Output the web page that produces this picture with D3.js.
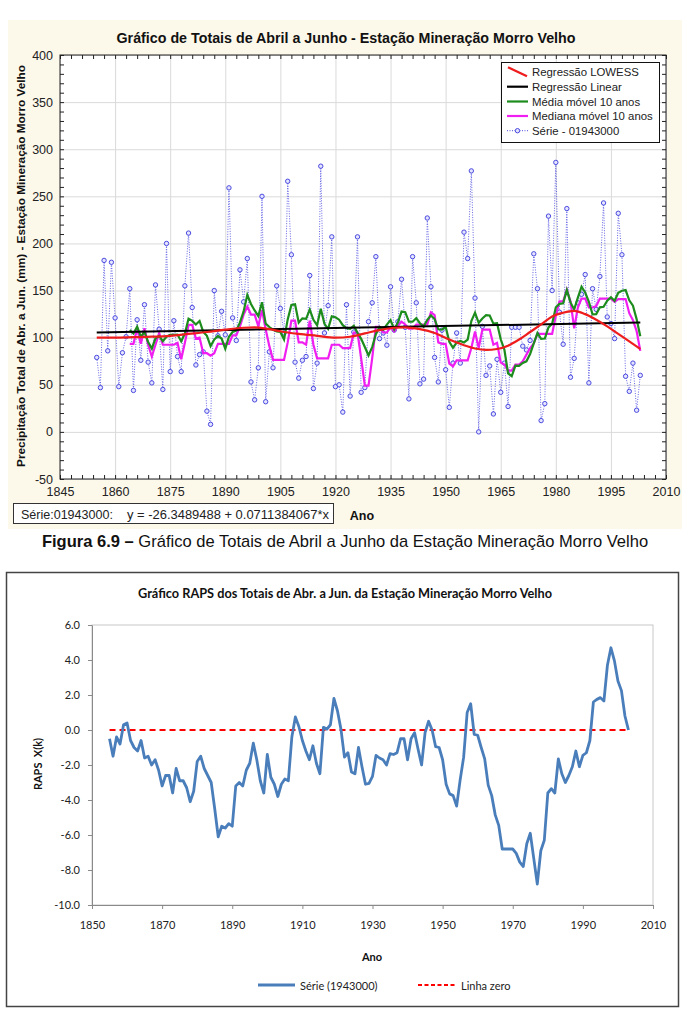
<!DOCTYPE html>
<html><head><meta charset="utf-8">
<script src="https://cdn.jsdelivr.net/npm/d3@7/dist/d3.min.js"></script>
<style>body{margin:0;background:#fff} svg{display:block}</style>
</head><body>
<svg id="c" width="686" height="1011"></svg>
<script>
// ---------------- DATA ----------------
const firstYear = 1855;
// Série - 01943000 (mm), 1855..2003
const serie = [79,47,182,86,180,121,48,84,101,152,
  44,119,76,135,74,52,156,109,45,200,
  64,118,80,64,155,211,132,71,82,85,
  22,8,150,102,128,103,259,121,97,172,
  138,184,53,34,68,250,32,85,68,155,
  131,105,266,188,74,57,76,80,166,46,
  73,282,105,134,207,48,50,21,135,38,
  106,207,42,47,117,137,186,99,105,92,
  154,108,117,162,111,35,186,137,51,56,
  227,154,79,53,108,66,26,73,105,73,
  212,184,277,142,0,112,60,70,19,77,
  42,73,27,111,111,111,91,87,97,189,
  152,12,30,229,150,286,127,93,237,58,
  78,137,146,167,52,152,130,165,243,122,
  115,99,232,188,59,43,73,23,60];
// Média móvel 10 anos, 1864..2003
const mediaFirstYear = 1864;
const mediaMovel = [108.0,104.5,111.7,101.1,106.0,95.4,88.5,99.3,101.8,96.2,
  101.0,103.0,102.9,103.3,96.2,104.3,120.2,117.8,114.0,117.7,
  106.2,102.0,91.0,98.0,101.8,99.1,88.3,101.0,106.0,107.5,
  116.2,127.8,145.4,135.7,128.9,122.9,137.6,114.9,111.3,108.4,
  106.7,106.0,98.1,119.4,134.8,135.4,116.1,120.5,120.0,129.8,
  118.9,113.1,130.8,114.7,109.3,122.6,121.7,119.1,113.2,110.1,
  109.3,112.6,105.1,98.8,90.1,81.1,90.0,103.6,111.4,108.4,
  113.8,118.6,108.7,116.2,127.7,127.1,116.9,116.9,120.7,115.3,
  111.7,119.0,123.6,119.8,108.9,108.6,111.7,95.7,89.3,94.7,
  96.4,94.9,97.9,117.7,126.6,115.8,120.4,123.8,123.5,114.9,
  115.3,98.3,87.2,62.2,59.1,70.2,70.1,73.2,74.9,82.7,
  93.9,104.9,98.8,99.1,110.9,114.8,132.3,135.9,136.5,150.5,
  137.4,130.0,142.5,154.1,147.9,138.1,124.7,125.0,132.2,132.8,
  139.2,142.9,139.1,147.7,149.8,150.5,139.6,133.9,119.7,101.4];
// Mediana móvel 10 anos, 1864..2003
const medianaMovel = [93.5,93.5,110,93.5,110,92.5,80,92.5,105,92.5,
  92.5,92.5,92.5,94.5,77,94.5,113.5,113.5,99,100,
  83.5,83.5,81,83.5,93.5,93.5,93.5,93.5,102.5,102.5,
  112,124.5,133,124.5,124.5,112,129.5,109,91,76.5,
  76.5,76.5,76.5,95,118,118,95,95,92.5,118,
  92.5,78,78,78,78,92.5,92.5,92.5,89,89,
  89,105.5,105.5,78,49,49,78,111.5,111.5,105.5,
  105.5,111,106.5,112.5,117,114,109.5,109.5,114,114,
  114,114,127,124,95,93.5,93.5,72.5,69.5,76,
  76,76,76,89,106.5,89,108.5,108.5,108.5,92.5,
  94.5,73.5,71.5,65,65,71.5,71.5,75,82,89,
  94,104,104,104,104,104,123.5,138.5,138.5,151,
  138.5,110,132,141.5,141.5,132,132,133.5,141.5,141.5,
  141.5,141.5,138,141,141,141,126,118.5,107,86];
// Regressão LOWESS
const lowessYears = [1855,1860,1865,1870,1875,1880,1885,1890,1895,1898,1902,1906,1910,1915,1920,1924,1928,1932,1936,1939,1943,1947,1951,1955,1958,1961,1964,1967,1970,1973,1976,1979,1982,1985,1988,1991,1994,1997,2000,2003];
const lowessVals  = [100,100,100.5,101,102,104,106,108.5,110.5,111,109,106,104,102,100,101,104.5,108,110.5,111,109,105,98,92,88.5,87,88,91.5,98,106,114,122.5,126.5,128.5,125,119,112,104,96,88];
// Regressão Linear
const linYears = [1855, 2003];
const linVals  = [105.6, 116.1];
// RAPS X(k), 1855..2003
const raps = [-0.5,-1.5,-0.4,-0.8,0.3,0.4,-0.6,-1.0,-1.2,-0.6,
  -1.6,-1.5,-2.0,-1.7,-2.3,-3.2,-2.6,-2.6,-3.6,-2.2,
  -2.9,-2.9,-3.3,-4.1,-3.5,-1.8,-1.5,-2.2,-2.6,-3.0,
  -4.5,-6.1,-5.5,-5.6,-5.35,-5.5,-3.2,-3.0,-3.2,-2.3,
  -1.9,-0.75,-1.7,-2.9,-3.6,-1.4,-2.7,-3.1,-3.8,-3.1,
  -2.8,-2.9,-0.4,0.75,0.2,-0.6,-1.2,-1.7,-0.9,-1.9,
  -2.5,0.15,0.05,0.3,1.8,1.1,0.05,-1.55,-1.3,-2.4,
  -2.5,-1.0,-2.1,-3.1,-3.05,-2.65,-1.45,-1.6,-1.7,-2.0,
  -1.35,-1.4,-1.3,-0.5,-0.5,-1.7,-0.5,-0.15,-1.1,-2.0,
  -0.15,0.5,0.0,-0.95,-1.0,-1.7,-3.1,-3.65,-3.75,-4.35,
  -2.85,-1.55,1.0,1.5,-0.25,-0.3,-1.0,-1.65,-3.15,-3.75,
  -4.85,-5.45,-6.8,-6.8,-6.8,-6.8,-7.05,-7.55,-7.8,-6.5,
  -5.9,-7.35,-8.8,-6.9,-6.3,-3.6,-3.35,-3.6,-1.65,-2.5,
  -3.0,-2.6,-2.1,-1.2,-2.1,-1.45,-1.3,-0.6,1.6,1.75,
  1.85,1.65,3.7,4.7,3.95,2.8,2.25,0.8,0.0];
const zeroYears = [1855, 2003];
const zeroVals = [0, 0];
// tick labels
const topXTicks = [1845,1860,1875,1890,1905,1920,1935,1950,1965,1980,1995,2010];
const topYTicks = [-50,0,50,100,150,200,250,300,350,400];
const botXTicks = [1850,1870,1890,1910,1930,1950,1970,1990,2010];
const botYTicks = [-10,-8,-6,-4,-2,0,2,4,6];

// ---------------- HELPERS ----------------
const svg = d3.select('#c');
function fit(sel, w){
  const n = sel.node(); const cur = n.getComputedTextLength();
  const fs = parseFloat(sel.attr('font-size'));
  sel.attr('font-size', (fs*w/cur).toFixed(2));
  return sel;
}
const pts = (vals, y0) => vals.map((v,i)=>({x:y0+i, y:v}));
const pairs = (xs, ys) => xs.map((x,i)=>({x:x, y:ys[i]}));

// ================= TOP CHART =================
const FT = 'Liberation Sans, Arial, sans-serif';
svg.append('rect').attr('x',8).attr('y',20).attr('width',674).attr('height',509).attr('fill','#fcf8ea');
const T = {l:60, r:666, t:55, b:479};
const xT = d3.scaleLinear().domain([1845,2010]).range([T.l,T.r]);
const yT = d3.scaleLinear().domain([-50,400]).range([T.b,T.t]);
svg.append('rect').attr('x',T.l).attr('y',T.t).attr('width',T.r-T.l).attr('height',T.b-T.t).attr('fill','#fff');

const gridStyle = g => { g.select('.domain').remove(); g.selectAll('line').attr('stroke','#dadada').attr('stroke-width',1); };
svg.append('g').attr('transform',`translate(0,${T.b})`)
  .call(d3.axisBottom(xT).tickValues(topXTicks).tickSize(-(T.b-T.t)).tickFormat('')).call(gridStyle);
svg.append('g').attr('transform',`translate(${T.l},0)`)
  .call(d3.axisLeft(yT).tickValues(topYTicks).tickSize(-(T.r-T.l)).tickFormat('')).call(gridStyle);

const minorX = d3.range(1845, 2011, 3), minorY = d3.range(-50, 401, 10);
const tickStyle = g => { g.select('.domain').remove(); g.selectAll('line').attr('stroke','#222'); };
svg.append('g').attr('transform',`translate(0,${T.b})`).call(d3.axisBottom(xT).tickValues(minorX).tickSize(-4).tickFormat('')).call(tickStyle);
svg.append('g').attr('transform',`translate(0,${T.t})`).call(d3.axisTop(xT).tickValues(minorX).tickSize(-4).tickFormat('')).call(tickStyle);
svg.append('g').attr('transform',`translate(${T.l},0)`).call(d3.axisLeft(yT).tickValues(minorY).tickSize(-4).tickFormat('')).call(tickStyle);
svg.append('g').attr('transform',`translate(${T.r},0)`).call(d3.axisRight(yT).tickValues(minorY).tickSize(-4).tickFormat('')).call(tickStyle);

const labStyle = g => { g.select('.domain').remove(); g.selectAll('line').remove();
  g.selectAll('text').attr('font-family',FT).attr('font-size',12.5).attr('fill','#222'); };
svg.append('g').attr('transform',`translate(0,${T.b})`).call(d3.axisBottom(xT).tickValues(topXTicks).tickSize(0).tickPadding(8).tickFormat(d=>String(d))).call(labStyle);
svg.append('g').attr('transform',`translate(${T.l},0)`).call(d3.axisLeft(yT).tickValues(topYTicks).tickSize(0).tickPadding(7).tickFormat(d=>String(d))).call(labStyle);

svg.append('defs').append('clipPath').attr('id','clipT').append('rect')
  .attr('x',T.l).attr('y',T.t).attr('width',T.r-T.l).attr('height',T.b-T.t);
const plotT = svg.append('g').attr('clip-path','url(#clipT)');
const lineT = d3.line().x(d=>xT(d.x)).y(d=>yT(d.y));
const serieColor = '#4a4ae0';
plotT.append('path').datum(pts(serie, firstYear)).attr('d',lineT).attr('fill','none')
  .attr('stroke',serieColor).attr('stroke-width',1).attr('stroke-dasharray','1,1.5').attr('opacity',0.85);
plotT.selectAll('circle.s').data(pts(serie, firstYear)).join('circle').attr('class','s')
  .attr('cx',d=>xT(d.x)).attr('cy',d=>yT(d.y)).attr('r',2.2)
  .attr('fill','#e4e4ff').attr('stroke',serieColor).attr('stroke-width',1);
plotT.append('path').datum(pts(medianaMovel, mediaFirstYear)).attr('d',lineT).attr('fill','none')
  .attr('stroke','#f01ef0').attr('stroke-width',2.2);
plotT.append('path').datum(pts(mediaMovel, mediaFirstYear)).attr('d',lineT).attr('fill','none')
  .attr('stroke','#1c8c1c').attr('stroke-width',2.2);
plotT.append('path').datum(pairs(linYears, linVals)).attr('d',lineT).attr('fill','none')
  .attr('stroke','#000').attr('stroke-width',2);
plotT.append('path').datum(pairs(lowessYears, lowessVals)).attr('d',lineT.curve(d3.curveMonotoneX)).attr('fill','none')
  .attr('stroke','#ee1c1c').attr('stroke-width',2.2);

svg.append('rect').attr('x',T.l).attr('y',T.t).attr('width',T.r-T.l).attr('height',T.b-T.t)
  .attr('fill','none').attr('stroke','#222').attr('stroke-width',1);

// title
fit(svg.append('text').attr('x',346).attr('y',43).attr('text-anchor','middle').attr('font-family',FT)
  .attr('font-weight','bold').attr('font-size',15).attr('fill','#111')
  .text('Gráfico de Totais de Abril a Junho - Estação Mineração Morro Velho'), 459);
// y title
fit(svg.append('text').attr('transform','translate(21,266) rotate(-90)').attr('text-anchor','middle')
  .attr('dominant-baseline','central').attr('font-family',FT).attr('font-weight','bold').attr('font-size',12).attr('fill','#111')
  .text('Precipitação Total de Abr. a Jun. (mm) - Estação Mineração Morro Velho'), 402);
// x title
svg.append('text').attr('x',362).attr('y',520).attr('text-anchor','middle').attr('font-family',FT)
  .attr('font-weight','bold').attr('font-size',12.5).attr('fill','#111').text('Ano');
// equation box
svg.append('rect').attr('x',13.5).attr('y',503.5).attr('width',320).attr('height',20).attr('fill','#fff').attr('stroke','#333');
fit(svg.append('text').attr('x',21).attr('y',518.5).attr('font-family',FT).attr('font-size',13).attr('fill','#222')
  .text('Série:01943000:'), 92);
fit(svg.append('text').attr('x',127).attr('y',518.5).attr('font-family',FT).attr('font-size',13).attr('fill','#222')
  .text('y = -26.3489488 + 0.0711384067*x'), 202);

// legend
const lg = svg.append('g');
lg.append('rect').attr('x',501.5).attr('y',62.5).attr('width',158).attr('height',80).attr('fill','#fff').attr('stroke','#111');
const legItems = [
  {label:'Regressão LOWESS', color:'#ee1c1c', type:'diag'},
  {label:'Regressão Linear', color:'#000', type:'line'},
  {label:'Média móvel 10 anos', color:'#1c8c1c', type:'line'},
  {label:'Mediana móvel 10 anos', color:'#f01ef0', type:'line'},
  {label:'Série - 01943000', color:serieColor, type:'dot'}];
const legY = [72.3, 86.7, 101.5, 116, 130.7];
const legTexts = [];
legItems.forEach((it,i)=>{
  const y = legY[i];
  if(it.type==='diag') lg.append('line').attr('x1',508).attr('y1',y-5).attr('x2',527).attr('y2',y+4).attr('stroke',it.color).attr('stroke-width',2.2);
  else if(it.type==='line') lg.append('line').attr('x1',507).attr('y1',y).attr('x2',528).attr('y2',y).attr('stroke',it.color).attr('stroke-width',2.2);
  else { lg.append('line').attr('x1',507).attr('y1',y).attr('x2',528).attr('y2',y).attr('stroke',it.color).attr('stroke-dasharray','1,1.5');
         lg.append('circle').attr('cx',517.5).attr('cy',y).attr('r',2.2).attr('fill','#e4e4ff').attr('stroke',it.color); }
  legTexts.push(lg.append('text').attr('x',532).attr('y',y).attr('dominant-baseline','central').attr('font-family',FT)
    .attr('font-size',12.5).attr('fill','#222').text(it.label));
});
// size all legend labels so that the longest one fits like in the reference
fit(legTexts[3], 121);
const legFs = legTexts[3].attr('font-size');
legTexts.forEach(t=>t.attr('font-size', legFs));

// caption
const cap = svg.append('text').attr('x',345).attr('y',547).attr('text-anchor','middle').attr('font-family',FT).attr('font-size',16).attr('fill','#111');
cap.append('tspan').attr('font-weight','bold').text('Figura 6.9 –');
cap.append('tspan').text(' Gráfico de Totais de Abril a Junho da Estação Mineração Morro Velho');
fit(cap, 607);

// ================= BOTTOM CHART =================
const FB = 'Lato, Carlito, Calibri, sans-serif';
svg.append('rect').attr('x',6.5).attr('y',572.5).attr('width',672).attr('height',434).attr('fill','#fff').attr('stroke','#444').attr('stroke-width',1.5);
const B = {l:92, r:653, t:625, b:905};
const xB = d3.scaleLinear().domain([1850,2010]).range([B.l,B.r]);
const yB = d3.scaleLinear().domain([-10,6]).range([B.b,B.t]);
svg.append('rect').attr('x',B.l).attr('y',B.t).attr('width',B.r-B.l).attr('height',B.b-B.t).attr('fill','none').attr('stroke','#c8c8c8');
const axB = g => { g.select('.domain').attr('stroke','#8a8a8a'); g.selectAll('line').attr('stroke','#8a8a8a');
  g.selectAll('text').attr('font-family',FB).attr('font-size',11).attr('fill','#222'); };
svg.append('g').attr('transform',`translate(0,${B.b})`)
  .call(d3.axisBottom(xB).tickValues(botXTicks).tickSize(4).tickSizeOuter(0).tickPadding(12).tickFormat(d=>String(d))).call(axB);
svg.append('g').attr('transform',`translate(${B.l},0)`)
  .call(d3.axisLeft(yB).tickValues(botYTicks).tickSize(4).tickSizeOuter(0).tickPadding(8).tickFormat(d=>d.toFixed(1))).call(axB);

const lineB = d3.line().x(d=>xB(d.x)).y(d=>yB(d.y));
svg.append('path').datum(pairs(zeroYears, zeroVals)).attr('d',lineB).attr('fill','none')
  .attr('stroke','#ff0000').attr('stroke-width',2).attr('stroke-dasharray','6,4');
svg.append('path').datum(pts(raps, firstYear)).attr('d',lineB).attr('fill','none')
  .attr('stroke','#4a7ebb').attr('stroke-width',2.8).attr('stroke-linejoin','round');

fit(svg.append('text').attr('x',345).attr('y',593).attr('text-anchor','middle').attr('dominant-baseline','central')
  .attr('font-family',FB).attr('font-weight','bold').attr('font-size',11.5).attr('fill','#111')
  .text('Gráfico RAPS dos Totais de Abr. a Jun. da Estação Mineração Morro Velho'), 414);
svg.append('text').attr('transform','translate(37,764) rotate(-90)').attr('text-anchor','middle')
  .attr('dominant-baseline','central').attr('font-family',FB).attr('font-weight','bold').attr('font-size',11).attr('fill','#111')
  .attr('xml:space','preserve').text('RAPS  X(k)');
svg.append('text').attr('x',372).attr('y',956).attr('text-anchor','middle').attr('dominant-baseline','central')
  .attr('font-family',FB).attr('font-weight','bold').attr('font-size',11).attr('fill','#111').text('Ano');
// legend
svg.append('line').attr('x1',258).attr('y1',985).attr('x2',295).attr('y2',985).attr('stroke','#4a7ebb').attr('stroke-width',3);
svg.append('text').attr('x',300).attr('y',985).attr('dominant-baseline','central').attr('font-family',FB).attr('font-size',11).attr('fill','#222').text('Série (1943000)');
svg.append('line').attr('x1',418).attr('y1',985).attr('x2',456).attr('y2',985).attr('stroke','#ff0000').attr('stroke-width',2).attr('stroke-dasharray','4,2.5');
svg.append('text').attr('x',461).attr('y',985).attr('dominant-baseline','central').attr('font-family',FB).attr('font-size',11).attr('fill','#222').text('Linha zero');
</script>
</body></html>
